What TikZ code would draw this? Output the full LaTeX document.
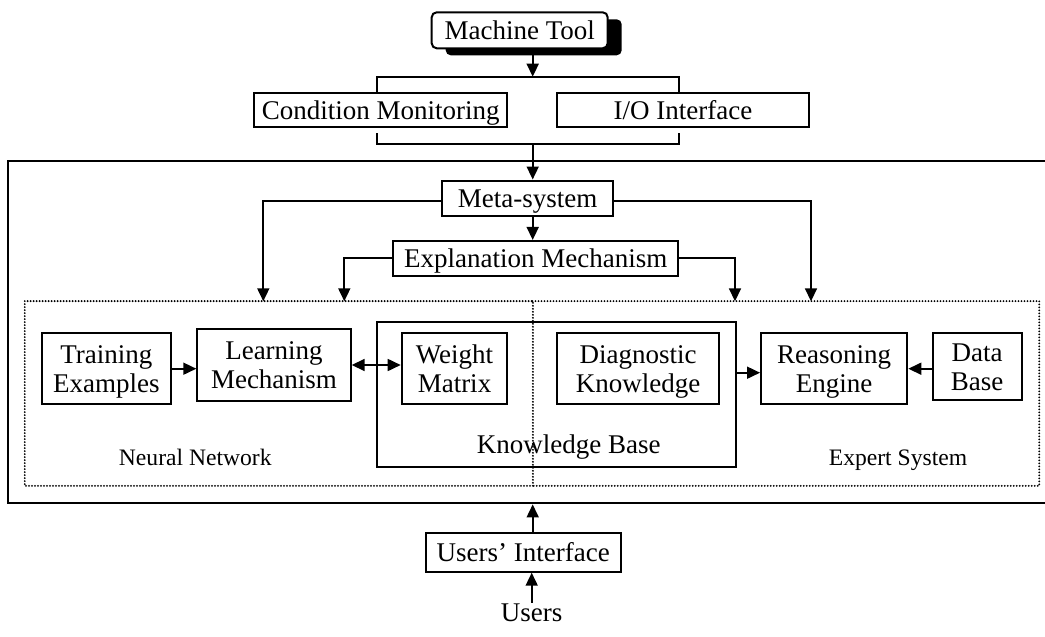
\documentclass[tikz,border=0pt]{standalone}
\usepackage{fontspec}
\setmainfont{Liberation Serif}
\usetikzlibrary{arrows.meta,shadows}
\newcommand\nd[1]{\raisebox{0pt}[\height][0pt]{#1}}
\begin{document}
\begin{tikzpicture}[x=1pt,y=-1pt,
  font=\fontsize{27}{29}\selectfont,
  box/.style={draw,line width=2pt,inner sep=0pt,align=center,fill=white},
  lab/.style={font=\fontsize{23.6}{26}\selectfont,anchor=base,inner sep=0pt},
  conn/.style={line width=1.7pt},
  arr/.style={conn,-{Triangle[length=13pt,width=12pt]}},
  arrtwo/.style={conn,{Triangle[length=13pt,width=12pt]}-{Triangle[length=13pt,width=12pt]}},
  dots/.style={line width=2.1pt,line cap=round,dash pattern=on 0pt off 3pt},
]
\useasboundingbox (0,0) rectangle (1045,637);
\clip (0,0) rectangle (1045,637);

% outer system frame (runs past the right edge)
\node[draw,line width=2.2pt,inner sep=0pt,minimum width=1051.7pt,minimum height=342.6pt] (sys) at (534.15,332) {};

% dotted sub-system frames
\node[inner sep=0pt,minimum width=507.7pt,minimum height=184.4pt] (NN) at (278.85,393.5) {};
\node[inner sep=0pt,minimum width=506.3pt,minimum height=184.4pt] (ES) at (785.85,393.5) {};
\draw[dots] (NN.north west) rectangle (NN.south east);
\draw[dots] (ES.north west) -- (ES.north east) -- (ES.south east) -- (ES.south west);

% knowledge base frame
\node[draw,line width=2pt,inner sep=0pt,minimum width=358.7pt,minimum height=144.4pt] (KB) at (556.65,394.5) {};

% boxes
\node[box,rounded corners=5pt,drop shadow={shadow xshift=14pt,shadow yshift=-7pt,fill=black,opacity=1},
      minimum width=176pt,minimum height=36pt] (MT) at (519.7,30.3) {\nd{Machine Tool}};
\node[box,minimum width=253.3pt,minimum height=34.6pt] (CM) at (380.7,110) {\nd{Condition Monitoring}};
\node[box,minimum width=252.6pt,minimum height=34.6pt] (IO) at (683,110) {\nd{I/O Interface}};
\node[box,minimum width=170.4pt,minimum height=35.5pt] (Meta) at (527.6,198.25) {\nd{Meta-system}};
\node[box,minimum width=285pt,minimum height=34.7pt] (Expl) at (535.8,258.3) {\nd{Explanation Mechanism}};
\node[box,minimum width=129.3pt,minimum height=70.7pt] (TE) at (106.3,368.7) {Training\\\nd{Examples}};
\node[box,minimum width=153.4pt,minimum height=72pt] (LM) at (274,365) {Learning\\\nd{Mechanism}};
\node[box,minimum width=105.6pt,minimum height=70.7pt] (WM) at (454.5,368.7) {Weight\\\nd{Matrix}};
\node[box,minimum width=162.6pt,minimum height=70.7pt] (DK) at (638,368.7) {Diagnostic\\\nd{Knowledge}};
\node[box,minimum width=146.3pt,minimum height=70.7pt] (RE) at (834.2,368.7) {Reasoning\\\nd{Engine}};
\node[box,minimum width=89pt,minimum height=66.7pt] (DB) at (977.2,366.7) {Data\\\nd{Base}};
\node[box,minimum width=194.7pt,minimum height=39pt] (UI) at (523.3,552.2) {\nd{Users’ Interface}};
\node[inner sep=1pt,anchor=base] (U) at (531.7,621.7) {Users};

% labels
\node[lab] (NNl) at (195.3,465) {Neural Network};
\node[lab] (ESl) at (898,465) {Expert System};
\node[lab,font=\fontsize{27}{29}\selectfont] (KBl) at (568.7,453.3) {Knowledge Base};

% helper coordinates
\coordinate (J1) at (532.7,76.7);
\coordinate (bL) at (376.7,76.7);
\coordinate (bR) at (679.3,76.7);
\coordinate (cL) at (376.7,133.3);
\coordinate (cR) at (679.3,133.3);
\coordinate (J2) at (532.7,144.3);
\coordinate (my) at (0,201.3);
\coordinate (mL) at (263.3,301.3);
\coordinate (mR) at (811,301.3);
\coordinate (eL) at (344.3,301.3);
\coordinate (eR) at (735,301.3);
\coordinate (ka) at (0,372.7);

% connectors
\draw[arr] (MT.south -| J1) -- (J1);
\draw[conn] (CM.north -| bL) -- (bL) -- (bR) -- (IO.north -| bR);
\draw[conn] (cL) |- (J2) -| (cR);
\draw[arr] (J2) -- (Meta.north -| J2);
\draw[arr] (Meta.west |- my) -| (mL);
\draw[arr] (Meta.east |- my) -| (mR);
\draw[arr] (Meta.south -| J2) -- (Expl.north -| J2);
\draw[arr] (Expl.west) -| (eL);
\draw[arr] (Expl.east) -| (eR);
\draw[arr] (TE.east) -- (TE.east -| LM.west);
\draw[arrtwo] (LM.east) -- (LM.east -| WM.west);
\draw[arr] (KB.east |- ka) -- (RE.west |- ka);
\draw[arr] (DB.west |- RE.east) -- (RE.east);
\draw[arr] (UI.north -| J2) -- (sys.south -| J2);
\draw[arr] (U.north) -- (UI.south -| U.north);
\end{tikzpicture}
\end{document}
